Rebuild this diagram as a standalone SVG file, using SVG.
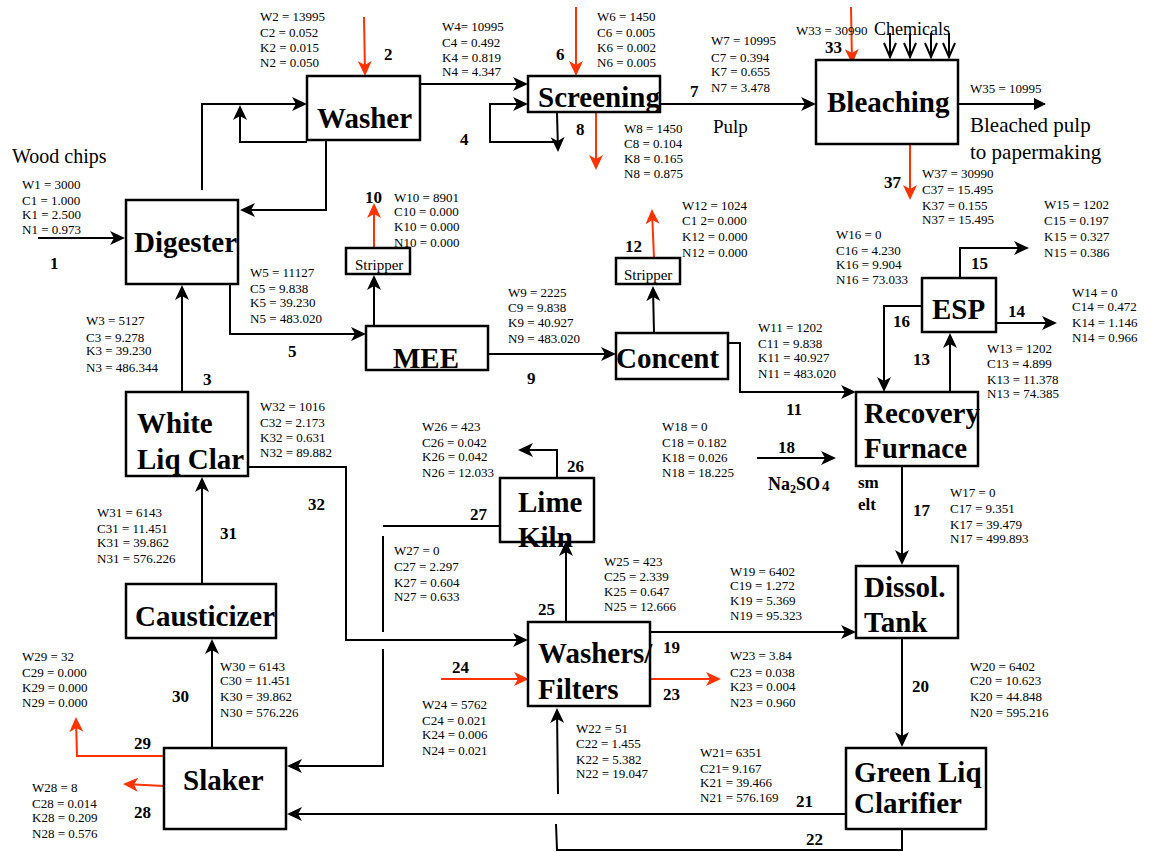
<svg xmlns="http://www.w3.org/2000/svg" width="1151" height="852" viewBox="0 0 1151 852">
<style>
text{font-family:"Liberation Serif","Times New Roman",serif;fill:#000}
.box{fill:#fff;stroke:#000;stroke-width:2.5}
.nl{font-size:29px;font-weight:bold}
.sm{font-size:15px}
.d{font-size:13px}
.n{font-size:17px;font-weight:bold}
.big{font-size:20px}
.k{fill:none;stroke:#000;stroke-width:2}
.r{fill:none;stroke:#ff3300;stroke-width:2}
.ka{marker-end:url(#ak)}
.ra{marker-end:url(#ar)}
</style>
<defs>
<marker id="ak" markerUnits="userSpaceOnUse" markerWidth="16" markerHeight="14" refX="13" refY="7" orient="auto"><path d="M0,0 L15,7 L0,14 L4,7 z" fill="#000"/></marker>
<marker id="ar" markerUnits="userSpaceOnUse" markerWidth="16" markerHeight="14" refX="13" refY="7" orient="auto"><path d="M0,0 L15,7 L0,14 L4,7 z" fill="#ff3300"/></marker>
<marker id="at" markerUnits="userSpaceOnUse" markerWidth="12" markerHeight="12" refX="11" refY="6" orient="auto"><path d="M0,0 L12,6 L0,12 z" fill="#000"/></marker>
</defs>
<rect width="1151" height="852" fill="#fff"/>

<g id="connectors">
<path class="k ka" d="M38,238 H123"/>
<path class="k ka" d="M202,190 V104 H305"/>
<path class="k ka" d="M307,142 H240 V107"/>
<path class="k ka" d="M326,140 V210 H242"/>
<path class="k ka" d="M420,84 H526"/>
<path class="k ka" d="M557,113 L558,150"/>
<path class="k ka" d="M557,142 H490 V104 H526"/>
<path class="k ka" d="M660,104 H814"/>
<path class="k" d="M958,104 H1045" marker-end="url(#at)"/>
<path class="k" d="M890,33 V57 M884,43 L890,57 L896,43 M910,33 V57 M904,43 L910,57 L916,43 M931,33 V57 M925,43 L931,57 L937,43 M949,33 V57 M943,43 L949,57 L955,43"/>
<path class="k ka" d="M374,326 V277"/>
<path class="k ka" d="M230,284 V334 H364"/>
<path class="k ka" d="M488,354 H614"/>
<path class="k ka" d="M654,333 L653,288"/>
<path class="k ka" d="M728,343 H740 V392 H854"/>
<path class="k ka" d="M950,392 V335"/>
<path class="k ka" d="M922,306 H884 V390"/>
<path class="k ka" d="M996,323 H1055"/>
<path class="k ka" d="M960,278 V248 H1027"/>
<path class="k ka" d="M902,466 V563"/>
<path class="k ka" d="M757,458 H834"/>
<path class="k ka" d="M650,632 H854"/>
<path class="k ka" d="M902,638 V745"/>
<path class="k ka" d="M846,814 H289"/>
<path class="k" d="M902,829 V850 H557 L556,824"/>
<path class="k ka" d="M558,794 L557,710"/>
<path class="k ka" d="M566,622 V543"/>
<path class="k ka" d="M557,478 V450 H520"/>
<path class="k" d="M499,526 H383 M383,536 V632"/>
<path class="k ka" d="M383,649 V766 H289"/>
<path class="k ka" d="M248,467 H346 V640 H526"/>
<path class="k ka" d="M182,392 V287"/>
<path class="k ka" d="M202,584 V479"/>
<path class="k ka" d="M212,748 V641"/>
<path class="r ra" d="M364,17 L365,74"/>
<path class="r ra" d="M576,7 V74"/>
<path class="r ra" d="M596,113 V168"/>
<path class="r ra" d="M851,7 L852,62"/>
<path class="r ra" d="M910,142 V198"/>
<path class="r ra" d="M374,248 V205"/>
<path class="r ra" d="M654,258 L652,211"/>
<path class="r ra" d="M650,679 H719"/>
<path class="r ra" d="M441,679 H527"/>
<path class="r ra" d="M164,756 H77 L76,719"/>
<path class="r ra" d="M164,786 L125,784"/>
</g>

<g id="washer"><rect class="box" x="307" y="76" width="113" height="64"/><text class="nl" x="317" y="128">Washer</text></g>
<g id="digester"><rect class="box" x="126" y="200" width="112" height="84"/><text class="nl" x="134" y="252">Digester</text></g>
<g id="screening"><rect class="box" x="528" y="76" width="132" height="36"/><text class="nl" x="538" y="107">Screening</text></g>
<g id="bleaching"><rect class="box" x="816" y="60" width="142" height="84"/><text class="nl" x="827" y="112">Bleaching</text></g>
<g id="stripper10"><rect class="box" x="346" y="248" width="64" height="26"/><text class="sm" x="355" y="270">Stripper</text></g>
<g id="mee"><rect class="box" x="366" y="326" width="122" height="44"/><text class="nl" x="393" y="368">MEE</text></g>
<g id="stripper12"><rect class="box" x="616" y="258" width="64" height="26"/><text class="sm" x="624" y="280">Stripper</text></g>
<g id="concent"><rect class="box" x="616" y="333" width="112" height="46"/><text class="nl" x="616" y="368">Concent</text></g>
<g id="esp"><rect class="box" x="922" y="278" width="74" height="54"/><text class="nl" x="932" y="319">ESP</text></g>
<g id="recovery"><rect class="box" x="856" y="392" width="122" height="74"/><text class="nl" x="864" y="423">Recovery</text><text class="nl" x="864" y="458">Furnace</text></g>
<g id="dissol"><rect class="box" x="856" y="566" width="102" height="72"/><text class="nl" x="864" y="597">Dissol.</text><text class="nl" x="864" y="632">Tank</text></g>
<g id="greenliq"><rect class="box" x="846" y="748" width="140" height="81"/><text class="nl" x="854" y="782">Green Liq</text><text class="nl" x="854" y="813">Clarifier</text></g>
<g id="washersfilters"><rect class="box" x="528" y="622" width="122" height="84"/><text class="nl" x="538" y="663">Washers/</text><text class="nl" x="538" y="699">Filters</text></g>
<g id="limekiln"><rect class="box" x="500" y="478" width="94" height="64"/><text class="nl" x="518" y="512">Lime</text><text class="nl" x="518" y="547">Kiln</text></g>
<g id="whiteliq"><rect class="box" x="126" y="392" width="122" height="84"/><text class="nl" x="137" y="433">White</text><text class="nl" x="137" y="469">Liq Clar</text></g>
<g id="causticizer"><rect class="box" x="126" y="584" width="150" height="54"/><text class="nl" x="135" y="626">Causticizer</text></g>
<g id="slaker"><rect class="box" x="164" y="748" width="122" height="81"/><text class="nl" x="183" y="790">Slaker</text></g>

<g id="labels">
<text class="big" x="12" y="163">Wood chips</text>
<text class="big" x="713" y="133" style="font-size:19px">Pulp</text>
<text class="big" x="970" y="132" style="font-size:21px">Bleached pulp</text>
<text class="big" x="970" y="159" style="font-size:21px">to papermaking</text>
<text x="874" y="35" style="font-size:18px">Chemicals</text>
<text class="n" x="768" y="490" style="font-size:18px">Na<tspan font-size="12" dy="3">2</tspan><tspan dy="-3">SO</tspan><tspan font-size="15" dx="2" dy="1">4</tspan></text>
<text class="n" x="858" y="488">sm</text>
<text class="n" x="858" y="510">elt</text>

<text class="n" x="50" y="269">1</text>
<text class="n" x="384" y="60">2</text>
<text class="n" x="203" y="385">3</text>
<text class="n" x="460" y="145">4</text>
<text class="n" x="288" y="357">5</text>
<text class="n" x="556" y="60">6</text>
<text class="n" x="690" y="97">7</text>
<text class="n" x="576" y="135">8</text>
<text class="n" x="527" y="384">9</text>
<text class="n" x="365" y="203">10</text>
<text class="n" x="786" y="415">11</text>
<text class="n" x="625" y="252">12</text>
<text class="n" x="913" y="365">13</text>
<text class="n" x="1008" y="317">14</text>
<text class="n" x="971" y="269">15</text>
<text class="n" x="893" y="327">16</text>
<text class="n" x="913" y="516">17</text>
<text class="n" x="778" y="453">18</text>
<text class="n" x="663" y="653">19</text>
<text class="n" x="912" y="692">20</text>
<text class="n" x="796" y="807">21</text>
<text class="n" x="806" y="845">22</text>
<text class="n" x="663" y="700">23</text>
<text class="n" x="452" y="673">24</text>
<text class="n" x="538" y="615">25</text>
<text class="n" x="567" y="472">26</text>
<text class="n" x="470" y="520">27</text>
<text class="n" x="134" y="818">28</text>
<text class="n" x="134" y="749">29</text>
<text class="n" x="172" y="702">30</text>
<text class="n" x="220" y="539">31</text>
<text class="n" x="308" y="510">32</text>
<text class="n" x="825" y="53">33</text>
<text class="n" x="884" y="188">37</text>
</g>

<g id="data" class="d">
<text class="d" x="22" y="189">W1 = 3000</text><text class="d" x="22" y="205">C1 = 1.000</text><text class="d" x="22" y="219">K1 = 2.500</text><text class="d" x="22" y="234">N1 = 0.973</text>
<text class="d" x="260" y="21">W2 = 13995</text><text class="d" x="260" y="37">C2 = 0.052</text><text class="d" x="260" y="52">K2 = 0.015</text><text class="d" x="260" y="67">N2 = 0.050</text>
<text class="d" x="442" y="31">W4= 10995</text><text class="d" x="442" y="47">C4 = 0.492</text><text class="d" x="442" y="62">K4 = 0.819</text><text class="d" x="442" y="76">N4 = 4.347</text>
<text class="d" x="597" y="21">W6 = 1450</text><text class="d" x="597" y="37">C6 = 0.005</text><text class="d" x="597" y="52">K6 = 0.002</text><text class="d" x="597" y="67">N6 = 0.005</text>
<text class="d" x="711" y="45">W7 = 10995</text><text class="d" x="711" y="62">C7 = 0.394</text><text class="d" x="711" y="76">K7 = 0.655</text><text class="d" x="711" y="92">N7 = 3.478</text>
<text class="d" x="624" y="133">W8 = 1450</text><text class="d" x="624" y="148">C8 = 0.104</text><text class="d" x="624" y="163">K8 = 0.165</text><text class="d" x="624" y="178">N8 = 0.875</text>
<text class="d" x="796" y="35">W33 = 30990</text>
<text class="d" x="970" y="93">W35 = 10995</text>
<text class="d" x="922" y="178">W37 = 30990</text><text class="d" x="922" y="194">C37 = 15.495</text><text class="d" x="922" y="210">K37 = 0.155</text><text class="d" x="922" y="224">N37 = 15.495</text>
<text class="d" x="394" y="202">W10 = 8901</text><text class="d" x="394" y="216">C10 = 0.000</text><text class="d" x="394" y="231">K10 = 0.000</text><text class="d" x="394" y="247">N10 = 0.000</text>
<text class="d" x="682" y="210">W12 = 1024</text><text class="d" x="682" y="225">C1 2= 0.000</text><text class="d" x="682" y="241">K12 = 0.000</text><text class="d" x="682" y="257">N12 = 0.000</text>
<text class="d" x="1044" y="209">W15 = 1202</text><text class="d" x="1044" y="225">C15 = 0.197</text><text class="d" x="1044" y="241">K15 = 0.327</text><text class="d" x="1044" y="257">N15 = 0.386</text>
<text class="d" x="836" y="239">W16 = 0</text><text class="d" x="836" y="255">C16 = 4.230</text><text class="d" x="836" y="269">K16 = 9.904</text><text class="d" x="836" y="284">N16 = 73.033</text>
<text class="d" x="250" y="277">W5 = 11127</text><text class="d" x="250" y="293">C5 = 9.838</text><text class="d" x="250" y="307">K5 = 39.230</text><text class="d" x="250" y="323">N5 = 483.020</text>
<text class="d" x="508" y="297">W9 = 2225</text><text class="d" x="508" y="312">C9 = 9.838</text><text class="d" x="508" y="327">K9 = 40.927</text><text class="d" x="508" y="343">N9 = 483.020</text>
<text class="d" x="1072" y="297">W14 = 0</text><text class="d" x="1072" y="311">C14 = 0.472</text><text class="d" x="1072" y="327">K14 = 1.146</text><text class="d" x="1072" y="342">N14 = 0.966</text>
<text class="d" x="86" y="325">W3 = 5127</text><text class="d" x="86" y="342">C3 = 9.278</text><text class="d" x="86" y="355">K3 = 39.230</text><text class="d" x="86" y="372">N3 = 486.344</text>
<text class="d" x="758" y="332">W11 = 1202</text><text class="d" x="758" y="348">C11 = 9.838</text><text class="d" x="758" y="362">K11 = 40.927</text><text class="d" x="758" y="378">N11 = 483.020</text>
<text class="d" x="987" y="353">W13 = 1202</text><text class="d" x="987" y="368">C13 = 4.899</text><text class="d" x="987" y="384">K13 = 11.378</text><text class="d" x="987" y="398">N13 = 74.385</text>
<text class="d" x="260" y="411">W32 = 1016</text><text class="d" x="260" y="427">C32 = 2.173</text><text class="d" x="260" y="442">K32 = 0.631</text><text class="d" x="260" y="457">N32 = 89.882</text>
<text class="d" x="422" y="431">W26 = 423</text><text class="d" x="422" y="447">C26 = 0.042</text><text class="d" x="422" y="461">K26 = 0.042</text><text class="d" x="422" y="477">N26 = 12.033</text>
<text class="d" x="662" y="431">W18 = 0</text><text class="d" x="662" y="447">C18 = 0.182</text><text class="d" x="662" y="462">K18 = 0.026</text><text class="d" x="662" y="477">N18 = 18.225</text>
<text class="d" x="950" y="497">W17 = 0</text><text class="d" x="950" y="513">C17 = 9.351</text><text class="d" x="950" y="529">K17 = 39.479</text><text class="d" x="950" y="543">N17 = 499.893</text>
<text class="d" x="97" y="517">W31 = 6143</text><text class="d" x="97" y="533">C31 = 11.451</text><text class="d" x="97" y="547">K31 = 39.862</text><text class="d" x="97" y="563">N31 = 576.226</text>
<text class="d" x="394" y="555">W27 = 0</text><text class="d" x="394" y="571">C27 = 2.297</text><text class="d" x="394" y="587">K27 = 0.604</text><text class="d" x="394" y="601">N27 = 0.633</text>
<text class="d" x="604" y="566">W25 = 423</text><text class="d" x="604" y="581">C25 = 2.339</text><text class="d" x="604" y="596">K25 = 0.647</text><text class="d" x="604" y="611">N25 = 12.666</text>
<text class="d" x="730" y="576">W19 = 6402</text><text class="d" x="730" y="590">C19 = 1.272</text><text class="d" x="730" y="605">K19 = 5.369</text><text class="d" x="730" y="620">N19 = 95.323</text>
<text class="d" x="22" y="661">W29 = 32</text><text class="d" x="22" y="677">C29 = 0.000</text><text class="d" x="22" y="692">K29 = 0.000</text><text class="d" x="22" y="707">N29 = 0.000</text>
<text class="d" x="730" y="660">W23 = 3.84</text><text class="d" x="730" y="677">C23 = 0.038</text><text class="d" x="730" y="691">K23 = 0.004</text><text class="d" x="730" y="707">N23 = 0.960</text>
<text class="d" x="220" y="671">W30 = 6143</text><text class="d" x="220" y="685">C30 = 11.451</text><text class="d" x="220" y="701">K30 = 39.862</text><text class="d" x="220" y="717">N30 = 576.226</text>
<text class="d" x="970" y="671">W20 = 6402</text><text class="d" x="970" y="685">C20 = 10.623</text><text class="d" x="970" y="701">K20 = 44.848</text><text class="d" x="970" y="717">N20 = 595.216</text>
<text class="d" x="422" y="709">W24 = 5762</text><text class="d" x="422" y="725">C24 = 0.021</text><text class="d" x="422" y="739">K24 = 0.006</text><text class="d" x="422" y="755">N24 = 0.021</text>
<text class="d" x="576" y="733">W22 = 51</text><text class="d" x="576" y="748">C22 = 1.455</text><text class="d" x="576" y="764">K22 = 5.382</text><text class="d" x="576" y="778">N22 = 19.047</text>
<text class="d" x="700" y="757">W21= 6351</text><text class="d" x="700" y="773">C21= 9.167</text><text class="d" x="700" y="787">K21 = 39.466</text><text class="d" x="700" y="802">N21 = 576.169</text>
<text class="d" x="32" y="792">W28 = 8</text><text class="d" x="32" y="808">C28 = 0.014</text><text class="d" x="32" y="822">K28 = 0.209</text><text class="d" x="32" y="838">N28 = 0.576</text>
</g>
</svg>
